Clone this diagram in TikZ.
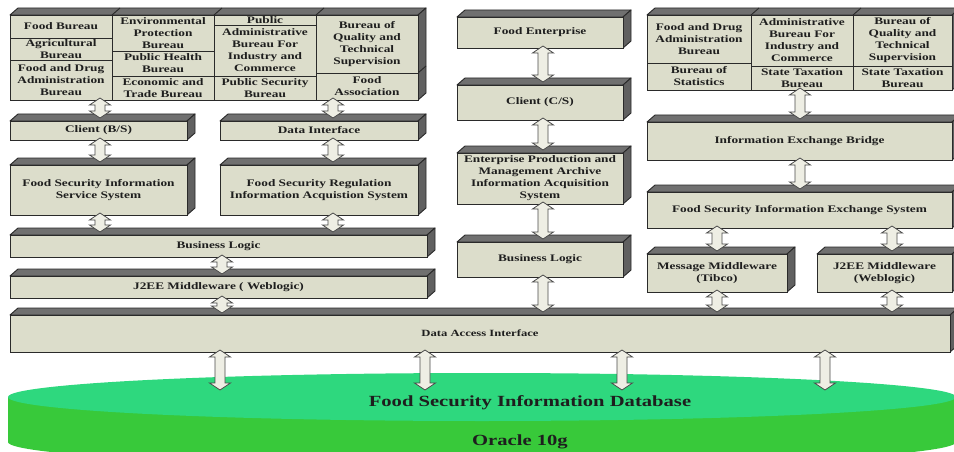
\documentclass[tikz,border=0pt]{standalone}
\usepackage{fontspec}
\setmainfont{Liberation Serif}[FakeStretch=1.33]
\usetikzlibrary{calc,shapes.geometric}
\definecolor{boxfill}{HTML}{DCDDCB}
\definecolor{boxline}{HTML}{2A2A2A}
\definecolor{topgray}{HTML}{707070}
\definecolor{sidegray}{HTML}{606060}
\definecolor{arrfill}{HTML}{EEEEE4}
\definecolor{arrline}{HTML}{4A4A4A}
\definecolor{txt}{HTML}{1E1E1E}
\definecolor{dbtop}{HTML}{2ED87E}
\definecolor{dbside}{HTML}{38C93A}
\tikzset{
  boxface/.style={draw=boxline, fill=boxfill, line width=0.9pt, inner sep=0pt, outer sep=0pt},
  topface/.style={draw=boxline, fill=topgray, line width=0.9pt, line join=round},
  sideface/.style={draw=boxline, fill=sidegray, line width=0.9pt, line join=round},
  boxtext/.style={inner sep=0pt, align=center, font=\fontsize{10}{12}\selectfont\bfseries, text=txt},
  arr/.style={draw=arrline, fill=arrfill, line width=0.8pt, line join=miter},
  dbtitle/.style={inner sep=0pt, font=\fontsize{15.5}{18}\selectfont\bfseries, text=txt},
  dbsub/.style={inner sep=0pt, font=\fontsize{15.5}{18}\selectfont\bfseries, text=txt},
}
\newcommand\tdfaces[4]{%
  \filldraw[topface] (#1,#2) -- ({#1+8},{#2-7}) -- ({#3+8},{#2-7}) -- (#3,#2) -- cycle;
  \filldraw[sideface] (#3,#2) -- ({#3+8},{#2-7}) -- ({#3+8},{#4-7}) -- (#3,#4) -- cycle;
}
\newcommand\tdcell[6]{%
  \node[boxface, minimum width={(#4-#2)*1pt}, minimum height={(#5-#3)*1pt}] (#1) at ({(#2+#4)/2},{(#3+#5)/2}) {};
  \node[boxtext] (#1-t) at (#1.center) {#6};
}
\newcommand\tdbox[6]{%
  \tdfaces{#2}{#3}{#4}{#5}
  \tdcell{#1}{#2}{#3}{#4}{#5}{#6}
}
\newcommand\barrow[4]{%
  \draw[arr] let \p1=($(#2.south)+(0,-2)$), \p2=($(#3.north)+(0,{-(#4)})$) in
    (#1pt,\y1) -- ({#1pt+10.5pt},{\y1-7pt}) -- ({#1pt+5pt},{\y1-7pt}) -- ({#1pt+5pt},{\y2+7pt})
    -- ({#1pt+10.5pt},{\y2+7pt}) -- (#1pt,\y2) -- ({#1pt-10.5pt},{\y2+7pt}) -- ({#1pt-5pt},{\y2+7pt})
    -- ({#1pt-5pt},{\y1-7pt}) -- ({#1pt-10.5pt},{\y1-7pt}) -- cycle;
}
\begin{document}
\begin{tikzpicture}[x=1pt,y=-1pt]
\useasboundingbox (0,0) rectangle (954,452);
\fill[white] (0,0) rectangle (954,452);
\clip (0,0) rectangle (954,452);

% ---------- database ----------
\fill[dbside] (8,397) rectangle (956,442);
\fill[dbside] (482,442) ellipse [x radius=474, y radius=24];
\node[ellipse, fill=dbtop, minimum width=948pt, minimum height=48pt, inner sep=0pt, outer sep=0pt] (db) at (482,397) {};
\node[dbtitle] (dbt) at (530,403) {Food Security Information Database};
\node[dbsub] (dbo) at (520,442) {Oracle 10g};

% ---------- top-left block ----------
\tdfaces{10}{15}{418}{100}
\draw[boxline, line width=0.9pt] (112,15) -- (120,8) (214,15) -- (222,8) (316,15) -- (324,8) (418,73) -- (426,66);
\node[boxface, minimum width=408pt, minimum height=85pt] (tl) at (214,57.5) {};
\tdcell{c11}{10}{15}{112}{38}{Food Bureau}
\tdcell{c12}{10}{38}{112}{60}{Agricultural\\Bureau}
\tdcell{c13}{10}{60}{112}{100}{Food and Drug\\Administration\\Bureau}
\tdcell{c21}{112}{15}{214}{51}{Environmental\\Protection\\Bureau}
\tdcell{c22}{112}{51}{214}{76}{Public Health\\Bureau}
\tdcell{c23}{112}{76}{214}{100}{Economic and\\Trade Bureau}
\tdcell{c31}{214}{15}{316}{25}{Public}
\tdcell{c32}{214}{25}{316}{76}{Administrative\\Bureau For\\Industry and\\Commerce}
\tdcell{c33}{214}{76}{316}{100}{Public Security\\Bureau}
\tdcell{c41}{316}{15}{418}{73}{Bureau of\\Quality and\\Technical\\Supervision}
\tdcell{c42}{316}{73}{418}{100}{Food\\Association}

% ---------- left column ----------
\tdbox{cbs}{10}{121}{187}{140}{Client (B/S)}
\tdbox{di}{220}{121}{418}{140}{Data Interface}
\tdbox{fsiss}{10}{165}{187}{215}{Food Security Information\\Service System}
\tdbox{fsrias}{220}{165}{418}{215}{Food Security Regulation\\Information Acquistion System}
\tdbox{bla}{10}{235}{427}{257}{Business Logic}
\tdbox{jla}{10}{276}{427}{298}{J2EE Middleware ( Weblogic)}

% ---------- middle column ----------
\tdbox{fe}{457}{17}{623}{48}{Food Enterprise}
\tdbox{ccs}{457}{85}{623}{120}{Client (C/S)}
\tdbox{epm}{457}{153}{623}{204}{Enterprise Production and\\Management Archive\\Information Acquisition\\System}
\tdbox{blb}{457}{242}{623}{277}{Business Logic}

% ---------- top-right block ----------
\tdfaces{647}{15}{952}{90}
\draw[boxline, line width=0.9pt] (751,15) -- (759,8) (853,15) -- (861,8);
\node[boxface, minimum width=305pt, minimum height=75pt] (tr) at (799.5,52.5) {};
\tdcell{d11}{647}{15}{751}{63}{Food and Drug\\Administration\\Bureau}
\tdcell{d12}{647}{63}{751}{90}{Bureau of\\Statistics}
\tdcell{d21}{751}{15}{853}{66}{Administrative\\Bureau For\\Industry and\\Commerce}
\tdcell{d22}{751}{66}{853}{90}{State Taxation\\Bureau}
\tdcell{d31}{853}{15}{952}{66}{Bureau of\\Quality and\\Technical\\Supervision}
\tdcell{d32}{853}{66}{952}{90}{State Taxation\\Bureau}

% ---------- right column ----------
\tdbox{ieb}{647}{122}{952}{160}{Information Exchange Bridge}
\tdbox{fsies}{647}{192}{952}{228}{Food Security Information Exchange System}
\tdbox{mmw}{647}{254}{787}{292}{Message Middleware\\(Tibco)}
\tdbox{jlb}{817}{254}{952}{292}{J2EE Middleware\\(Weblogic)}

% ---------- data access interface ----------
\tdfaces{10}{315}{950}{352}
\node[boxface, minimum width=940pt, minimum height=37pt] (dai) at (480,333.5) {};
\node[boxtext, font=\fontsize{9.5}{11}\selectfont\bfseries] (dai-t) at (dai.center) {Data Access Interface};

% ---------- arrows ----------
\barrow{100}{tl}{cbs}{3}
\barrow{333}{tl}{di}{3}
\barrow{100}{cbs}{fsiss}{3}
\barrow{333}{di}{fsrias}{3}
\barrow{100}{fsiss}{bla}{3}
\barrow{333}{fsrias}{bla}{3}
\barrow{222}{bla}{jla}{2}
\barrow{222}{jla}{dai}{2}
\barrow{543}{fe}{ccs}{3}
\barrow{543}{ccs}{epm}{3}
\barrow{543}{epm}{blb}{3}
\barrow{543}{blb}{dai}{3}
\barrow{800}{tr}{ieb}{3}
\barrow{800}{ieb}{fsies}{3}
\barrow{717}{fsies}{mmw}{3}
\barrow{892}{fsies}{jlb}{3}
\barrow{717}{mmw}{dai}{3}
\barrow{892}{jlb}{dai}{3}
\barrow{220}{dai}{db}{-17}
\barrow{425}{dai}{db}{-17}
\barrow{622}{dai}{db}{-17}
\barrow{825}{dai}{db}{-17}
\end{tikzpicture}
\end{document}
